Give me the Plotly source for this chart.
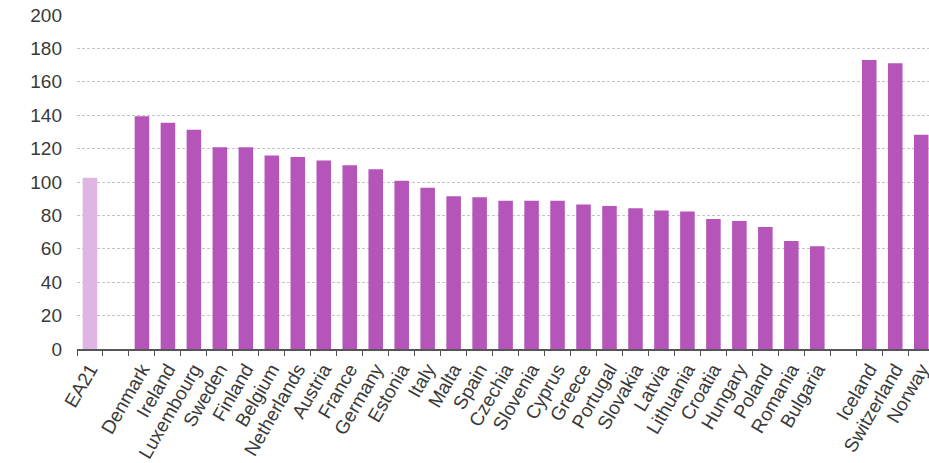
import plotly.graph_objects as go

# euro area aggregate
ea_label = ["EA21"]
ea_values = [102.6]

# EU member states
eu_countries = ["Denmark", "Ireland", "Luxembourg", "Sweden", "Finland", "Belgium",
                "Netherlands", "Austria", "France", "Germany", "Estonia", "Italy",
                "Malta", "Spain", "Czechia", "Slovenia", "Cyprus", "Greece",
                "Portugal", "Slovakia", "Latvia", "Lithuania", "Croatia", "Hungary",
                "Poland", "Romania", "Bulgaria"]
eu_values = [139.4, 135.5, 131.3, 120.8, 120.8, 115.8,
             115.0, 112.8, 110.0, 107.7, 100.7, 96.5,
             91.5, 90.9, 88.7, 88.7, 88.7, 86.5,
             85.7, 84.3, 82.9, 82.3, 77.9, 76.6,
             73.0, 64.6, 61.6]

# EFTA countries
efta_countries = ["Iceland", "Switzerland", "Norway"]
efta_values = [173.0, 171.1, 128.3]

# build the category axis with empty slots between the groups
x = ea_label + [" "] + eu_countries + ["  "] + efta_countries
y = ea_values + [None] + eu_values + [None] + efta_values
colors = ["#e0b5e3"] + ["#b555ba"] * (len(x) - 1)

fig = go.Figure()
fig.add_trace(go.Bar(x=x, y=y, marker=dict(color=colors, line=dict(width=0))))

fig.update_layout(
    width=929,
    height=463,
    margin=dict(l=77, r=0, t=15, b=114),
    plot_bgcolor="white",
    paper_bgcolor="white",
    bargap=0.44,
    showlegend=False,
    font=dict(family="Liberation Sans, Arial", size=19, color="#3a3a3a"),
)

fig.update_xaxes(
    type="category",
    range=[-0.5, 32.3],   # last bar (Norway) runs off the right edge
    automargin=False,
    tickangle=-60,
    tickson="boundaries",
    ticks="outside",
    ticklen=5,
    tickcolor="#555555",
    showline=True,
    linecolor="#555555",
    linewidth=1.5,
    showgrid=False,
)

fig.update_yaxes(
    range=[0, 200],
    dtick=20,
    automargin=False,
    showline=False,
    ticks="",
    showgrid=True,
    gridcolor="#c4c4c4",
    gridwidth=1,
    griddash="3px,2px",
    zeroline=False,
    ticklabelstandoff=14,
)

# drop the default page margin so the figure sits at the window corner
fig.write_html("out.html", config={"displayModeBar": False},
               post_script="document.body.style.margin='0';")
